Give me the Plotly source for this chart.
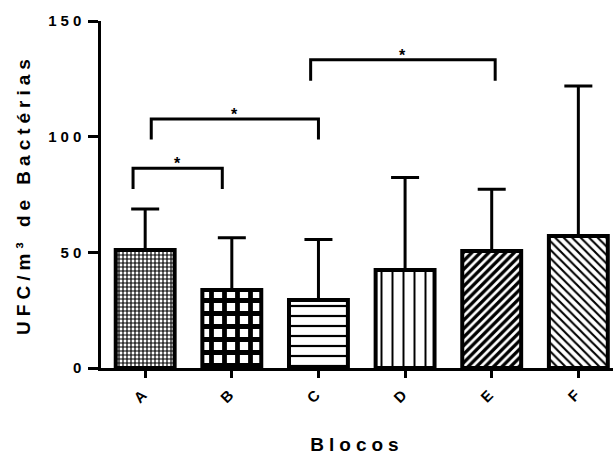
import plotly.graph_objects as go

# ---- data ----
categories = ["A", "B", "C", "D", "E", "F"]
means = [51.0, 33.7, 29.4, 42.4, 50.6, 57.1]
sd_upper = [17.7, 22.6, 26.1, 40.0, 26.7, 64.8]
y_ticks = [0, 50, 100, 150]
y_title = "UFC/m³ de Bactérias"
x_title = "Blocos"

# fill patterns per bar
pattern_shapes = ["+", "+", "-", "|", "/", "\\"]
pattern_sizes = [4, 13, 10, 11, 6, 6]
pattern_solidity = [0.5, 0.6, 0.22, 0.18, 0.55, 0.35]

# significance brackets (category index positions and y values)
bracket_left = [-0.14, 0.07, 1.91]
bracket_right = [0.89, 2.0, 4.04]
bracket_top = [86.3, 107.6, 133.2]
bracket_bottom = [77.4, 98.8, 124.2]
bracket_labels = ["*", "*", "*"]

FONT = "Liberation Sans, Arial, Helvetica, sans-serif"

fig = go.Figure()
fig.add_trace(go.Bar(
    x=categories,
    y=means,
    marker=dict(
        color="white",
        line=dict(color="black", width=4),
        pattern=dict(shape=pattern_shapes, size=pattern_sizes,
                     solidity=pattern_solidity, fgcolor="black",
                     bgcolor="white", fillmode="replace"),
    ),
    error_y=dict(type="data", array=sd_upper, arrayminus=[0] * len(sd_upper),
                 symmetric=False, color="black", thickness=3, width=14),
    showlegend=False,
    hoverinfo="skip",
))

for xl, xr, yt, yb, lab in zip(bracket_left, bracket_right, bracket_top,
                               bracket_bottom, bracket_labels):
    fig.add_shape(type="path",
                  path=f"M {xl},{yb} L {xl},{yt} L {xr},{yt} L {xr},{yb}",
                  xref="x", yref="y", line=dict(color="black", width=3))
    fig.add_annotation(x=(xl + xr) / 2, y=yt, xref="x", yref="y", text=lab,
                       showarrow=False, yanchor="bottom", yshift=-6,
                       font=dict(family=FONT, size=16, color="black", weight="bold"))

fig.update_layout(
    width=614, height=455,
    margin=dict(l=101, r=1, t=21, b=87, autoexpand=False),
    paper_bgcolor="white", plot_bgcolor="white",
    bargap=0.32,
    font=dict(family=FONT, color="black"),
    xaxis=dict(
        range=[-0.51, 5.4],
        automargin=False,
        showline=True, linecolor="black", linewidth=2.5,
        ticks="outside", ticklen=7, tickwidth=2.5, tickcolor="black",
        tickangle=-45,
        tickfont=dict(family=FONT, size=15, color="black", weight="bold"),
        showgrid=False, zeroline=False,
        title=dict(text=x_title, standoff=38,
                   font=dict(family=FONT, size=19, color="black", weight="bold")),
    ),
    yaxis=dict(
        range=[0, 150],
        automargin=False,
        tickvals=y_ticks,
        showline=True, linecolor="black", linewidth=2.5,
        ticks="outside", ticklen=10, tickwidth=2.5, tickcolor="black",
        tickfont=dict(family=FONT, size=15, color="black", weight="bold"),
        showgrid=False, zeroline=False,
        title=dict(text=y_title, standoff=25,
                   font=dict(family=FONT, size=19, color="black", weight="bold")),
    ),
)

# remove the page margin and widen the letter spacing of the axis texts
post = """
document.body.style.margin = '0';
var gd = document.getElementById('{plot_id}');
gd.querySelectorAll('.xtick text, .ytick text').forEach(function(t){ t.style.letterSpacing = '4px'; });
gd.querySelectorAll('.g-xtitle text, .g-ytitle text').forEach(function(t){ t.style.letterSpacing = '5px'; });
"""
fig.write_html("out.html", post_script=post, config={"displayModeBar": False})
